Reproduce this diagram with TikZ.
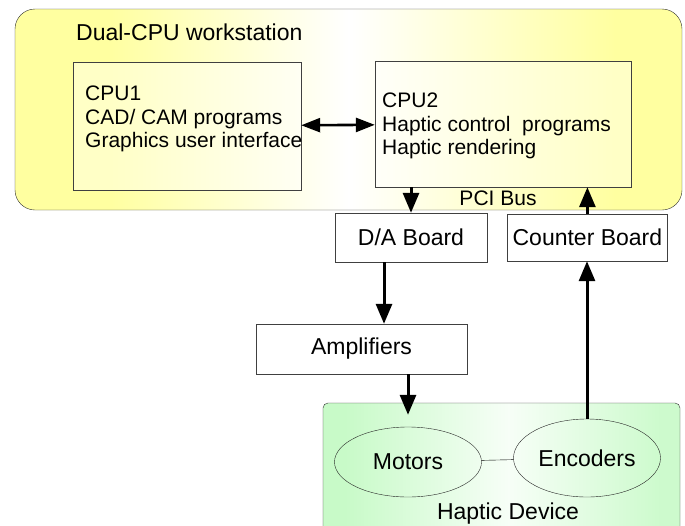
\documentclass[tikz,border=0pt]{standalone}
\usepackage{fontspec}
\setmainfont{Liberation Sans}
\usetikzlibrary{arrows.meta,positioning,shapes.geometric}
\definecolor{wsYellow}{HTML}{FFFFA0}
\definecolor{hdGreen}{HTML}{C8FAC8}
\pgfdeclarehorizontalshading{wsfade}{100bp}{color(0bp)=(wsYellow); color(32bp)=(wsYellow); color(50bp)=(white); color(70bp)=(wsYellow); color(100bp)=(wsYellow)}
\pgfdeclarehorizontalshading{hdfade}{100bp}{color(0bp)=(hdGreen); color(28bp)=(hdGreen); color(51bp)=(white!85!hdGreen); color(72bp)=(hdGreen!90!white); color(100bp)=(hdGreen!90!white)}

\begin{document}
\begin{tikzpicture}[
  x=1pt, y=-1pt,
  every node/.style={font=\fontsize{23}{26}\selectfont},
  ws/.style={draw=black!80, rounded corners=20pt, shading=wsfade},
  cpu/.style={draw=black!75, fill=white, fill opacity=0.4},
  cputxt/.style={align=left, inner sep=0pt, font=\fontsize{21}{23.5}\selectfont},
  board/.style={draw=black!75, fill=white},
  dev/.style={draw=black!80, rounded corners=5pt, shading=hdfade},
  part/.style={ellipse, draw=black!85, minimum width=147pt},
  arr/.style={-{Triangle[length=20pt,width=16pt]}, line width=3pt},
  dbl/.style={{Triangle[length=19pt,width=14pt]}-{Triangle[length=19pt,width=14pt]}, line width=2.6pt}
]
  \clip (0,0) rectangle (685,525);
  \fill[white] (0,0) rectangle (685,525);

  % workstation with the two processors
  \node[ws, minimum width=667pt, minimum height=201pt] (ws) at (348.5,109.5) {};
  \node[anchor=base west, inner sep=0pt] (wstitle) at (76,40) {Dual-CPU workstation};
  \node[cpu, minimum width=228pt, minimum height=128pt] (cpu1) at (187,126) {};
  \node[cpu, minimum width=256pt, minimum height=126pt] (cpu2) at (503,124) {};
  \node[cputxt, anchor=north west] (cpu1txt) at (85,86) {CPU1\\CAD/ CAM programs\\Graphics user interface};
  \node[cputxt, anchor=north west] (cpu2txt) at (382,93) {CPU2\\Haptic control\ \ programs\\Haptic rendering};
  \node[font=\fontsize{21}{23}\selectfont] (pci) at (498,198) {PCI Bus};

  % interface boards
  \node[board, minimum width=152pt, minimum height=49pt] (dab) at (411,237.5) {D/A Board};
  \node[board, minimum width=160pt, minimum height=47pt, right=20pt of dab, inner sep=2pt] (cnt) {Counter Board};
  \node[board, minimum width=211pt, minimum height=50pt] (amp) at (361.5,349) {Amplifiers};

  % haptic device
  \node[dev, minimum width=357pt, minimum height=140pt] (hd) at (501.5,473) {};
  \node[part, minimum height=70pt] (mot) at (408,462) {Motors};
  \node[part, minimum height=78pt] (enc) at (587,458) {Encoders};
  \node (hdtitle) at (508,514) {Haptic Device};

  \draw[dbl] (cpu1) -- (cpu2);
  \draw[arr] (cpu2.south -| dab.north) -- (dab.north);
  \draw[arr] (cnt.north) -- (cnt.north |- cpu2.south);
  \draw[arr] ([xshift=-27pt]dab.south) -- ([xshift=-27pt]dab.south |- amp.north);
  \draw[arr] (amp.south -| mot.north) -- ([yshift=12pt]mot.north);
  \draw[arr] (enc.north) -- (enc.north |- cnt.south);
  \draw (mot) -- (enc);
\end{tikzpicture}
\end{document}
